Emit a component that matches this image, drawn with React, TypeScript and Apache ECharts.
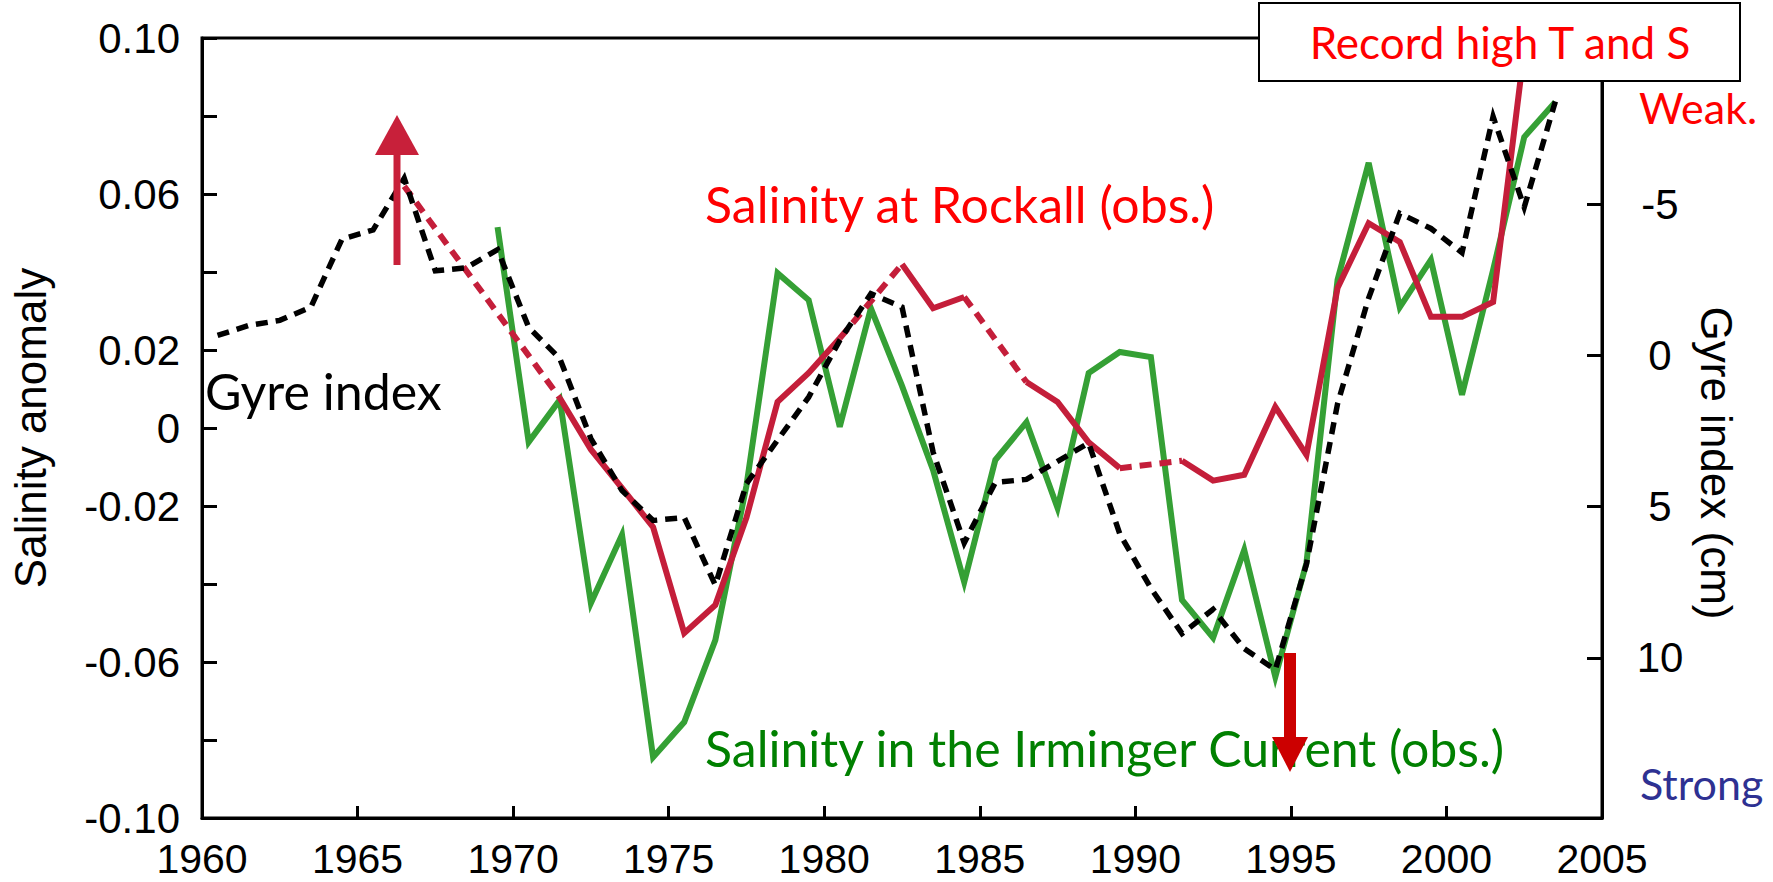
import React, { useEffect, useRef } from "react";
import * as echarts from "echarts";

// Mid-year positions of the annual values
const years = [
  1960.5, 1961.5, 1962.5, 1963.5, 1964.5, 1965.5, 1966.5, 1967.5, 1968.5, 1969.5,
  1970.5, 1971.5, 1972.5, 1973.5, 1974.5, 1975.5, 1976.5, 1977.5, 1978.5, 1979.5,
  1980.5, 1981.5, 1982.5, 1983.5, 1984.5, 1985.5, 1986.5, 1987.5, 1988.5, 1989.5,
  1990.5, 1991.5, 1992.5, 1993.5, 1994.5, 1995.5, 1996.5, 1997.5, 1998.5, 1999.5,
  2000.5, 2001.5, 2002.5, 2003.5,
];

// Gyre index (cm), right axis (inverted)
const gyreIndex = [
  -0.66, -0.99, -1.16, -1.6, -3.85, -4.15, -5.86, -2.8, -2.9, -3.5,
  -0.93, 0.1, 2.75, 4.47, 5.46, 5.36, 7.6, 4.24, 2.8, 1.38,
  -0.5, -2.04, -1.6, 3.2, 6.2, 4.2, 4.1, 3.5, 2.9, 5.9,
  7.7, 9.2, 8.4, 9.7, 10.4, 6.9, 1.6, -1.9, -4.7, -4.2,
  -3.4, -7.9, -4.9, -8.4,
];

// Salinity at Rockall (obs.), null = missing year (bridged by a dashed line)
const rockall = [
  null, null, null, null, null, null, 0.062, null, null, null,
  null, 0.0077, -0.0055, -0.0154, -0.0254, -0.0526, -0.0454, -0.023, 0.0067, 0.0141,
  0.023, null, 0.042, 0.0307, 0.0336, null, 0.0118, 0.0067, -0.0037, -0.0103,
  null, -0.0084, -0.0135, -0.012, 0.0054, -0.0069, 0.0359, 0.0525, 0.0477, 0.0285,
  0.0285, 0.0323, 0.097, null,
];

// Salinity in the Irminger Current (obs.)
const irminger = [
  null, null, null, null, null, null, null, null, null, 0.0515,
  -0.0036, 0.0072, -0.0449, -0.0274, -0.0844, -0.0754, -0.0544, -0.0148, 0.0397, 0.0328,
  0.0003, 0.0307, 0.0108, -0.0108, -0.0395, -0.0082, 0.0015, -0.0205, 0.0141, 0.0195,
  0.0182, -0.0441, -0.0538, -0.0313, -0.0638, -0.0346, 0.038, 0.068, 0.031, 0.0431,
  0.0085, 0.0405, 0.0746, 0.0836,
];

const xTicks = [1960, 1965, 1970, 1975, 1980, 1985, 1990, 1995, 2000, 2005];
const leftLabels: Record<string, string> = {
  "10": "0.10", "6": "0.06", "2": "0.02", "0": "0", "-2": "-0.02", "-6": "-0.06", "-10": "-0.10",
};
const rightTicks = [-5, 0, 5, 10];

const GREEN = "#35a035";
const RED = "#c41e3a";
const AXIS_FONT = "'Liberation Sans', Arial, sans-serif";
const NOTE_FONT = "Lato, 'Open Sans', sans-serif";

export default function App() {
  const ref = useRef<HTMLDivElement>(null);

  useEffect(() => {
    if (!ref.current) return;
    const chart = echarts.init(ref.current, null, { renderer: "svg" });

    const pairs = (vals: (number | null)[]) =>
      years.map((x, i) => [x, vals[i] == null ? null : vals[i]]);

    // dashed bridges over missing Rockall years
    const bridges: number[][][] = [];
    let prev = -1;
    rockall.forEach((v, i) => {
      if (v == null) return;
      if (prev >= 0 && i - prev > 1) {
        bridges.push([[years[prev], rockall[prev] as number], [years[i], v]]);
      }
      prev = i;
    });

    const axisLine = { show: true, onZero: false, lineStyle: { color: "#000", width: 3 } };

    const option: any = {
      animation: false,
      backgroundColor: "#ffffff",
      grid: {
        left: 190, right: 171, top: 38, bottom: 64,
        show: true, borderColor: "#000", borderWidth: 3, backgroundColor: "transparent",
      },
      xAxis: {
        type: "value", min: 1960, max: 2005, interval: 5,
        axisLine,
        axisTick: { show: true, inside: true, length: 12, lineStyle: { color: "#000", width: 3 } },
        axisLabel: {
          color: "#000", fontSize: 41, lineHeight: 34, fontFamily: AXIS_FONT, margin: 24,
          formatter: (v: number) => (xTicks.includes(Math.round(v)) ? String(Math.round(v)) : ""),
        },
        splitLine: { show: false },
      },
      yAxis: [
        {
          type: "value", min: -0.1, max: 0.1, interval: 0.02,
          name: "Salinity anomaly", nameLocation: "middle", nameGap: 150,
          nameTextStyle: { color: "#000", fontSize: 44, fontFamily: AXIS_FONT },
          axisLine,
          axisTick: { show: true, inside: true, length: 15, lineStyle: { color: "#000", width: 3 } },
          axisLabel: {
            color: "#000", fontSize: 42, fontFamily: AXIS_FONT, margin: 22,
            padding: [0, 0, 12, 0],
            formatter: (v: number) => leftLabels[String(Math.round(v * 100))] ?? "",
          },
          splitLine: { show: false },
        },
        {
          type: "value", position: "right", inverse: true, min: -10.5, max: 15.3,
          axisLine,
          axisTick: {
            show: true, inside: true, length: 15, customValues: rightTicks,
            lineStyle: { color: "#000", width: 3 },
          },
          axisLabel: {
            color: "#000", fontSize: 42, fontFamily: AXIS_FONT, margin: 58, align: "center",
            customValues: rightTicks,
            formatter: (v: number) => String(v),
          },
          splitLine: { show: false },
        },
      ],
      series: [
        {
          name: "Salinity in the Irminger Current (obs.)", type: "line", yAxisIndex: 0,
          data: pairs(irminger).filter((p) => p[1] != null),
          showSymbol: false, symbol: "none", z: 2,
          lineStyle: { color: GREEN, width: 6, join: "miter" },
        },
        {
          name: "Salinity at Rockall (obs.)", type: "line", yAxisIndex: 0,
          data: pairs(rockall), connectNulls: false,
          showSymbol: false, symbol: "none", z: 3,
          lineStyle: { color: RED, width: 6, join: "miter" },
        },
        ...bridges.map((seg, k) => ({
          name: "Rockall gap " + k, type: "line", yAxisIndex: 0, data: seg,
          showSymbol: false, symbol: "none", z: 3,
          lineStyle: { color: RED, width: 6, type: [12, 8], cap: "butt" },
        })),
        {
          name: "Gyre index", type: "line", yAxisIndex: 1,
          data: pairs(gyreIndex),
          showSymbol: false, symbol: "none", z: 4,
          lineStyle: { color: "#000", width: 5.5, type: [12, 8], cap: "butt", join: "miter" },
        },
      ],
      graphic: [
        {
          type: "text", x: 1716, y: 463, rotation: -Math.PI / 2, z: 100,
          style: {
            text: "Gyre index (cm)", fill: "#000", font: `44px ${AXIS_FONT}`,
            align: "center", verticalAlign: "middle",
          },
        },
        {
          type: "text", x: 205, y: 391, z: 100,
          style: { text: "Gyre index", fill: "#000", font: `50px ${NOTE_FONT}`, align: "left", verticalAlign: "middle" },
        },
        {
          type: "text", x: 705, y: 204, z: 100,
          style: { text: "Salinity at Rockall (obs.)", fill: "#ff0000", font: `50px ${NOTE_FONT}`, align: "left", verticalAlign: "middle" },
        },
        {
          type: "text", x: 705, y: 748, z: 100,
          style: { text: "Salinity in the Irminger Current (obs.)", fill: "#008000", font: `50px ${NOTE_FONT}`, align: "left", verticalAlign: "middle" },
        },
        {
          type: "rect", z: 100,
          shape: { x: 1259, y: 3, width: 481, height: 78 },
          style: { fill: "#ffffff", stroke: "#000", lineWidth: 2 },
        },
        {
          type: "text", x: 1500, y: 42, z: 101,
          style: { text: "Record high T and S", fill: "#ff0000", font: `44px ${NOTE_FONT}`, align: "center", verticalAlign: "middle" },
        },
        {
          type: "text", x: 1639, y: 107, z: 100,
          style: { text: "Weak.", fill: "#ff0000", font: `43px ${NOTE_FONT}`, align: "left", verticalAlign: "middle" },
        },
        {
          type: "text", x: 1640, y: 783, z: 100,
          style: { text: "Strong", fill: "#2e3192", font: `43px ${NOTE_FONT}`, align: "left", verticalAlign: "middle" },
        },
        // up arrow
        {
          type: "rect", z: 110,
          shape: { x: 393.5, y: 150, width: 7, height: 115 },
          style: { fill: "#c8203a" },
        },
        {
          type: "polygon", z: 110,
          shape: { points: [[375, 155], [397, 115], [419, 155]] },
          style: { fill: "#c8203a" },
        },
        // down arrow
        {
          type: "rect", z: 110,
          shape: { x: 1284, y: 653, width: 12, height: 86 },
          style: { fill: "#cc0000" },
        },
        {
          type: "polygon", z: 110,
          shape: { points: [[1272, 737], [1308, 737], [1290, 772]] },
          style: { fill: "#cc0000" },
        },
      ],
    };

    chart.setOption(option);
    return () => chart.dispose();
  }, []);

  return (
    <div
      ref={ref}
      style={{ position: "fixed", left: 0, top: 0, width: 1773, height: 882, background: "#fff" }}
    />
  );
}
